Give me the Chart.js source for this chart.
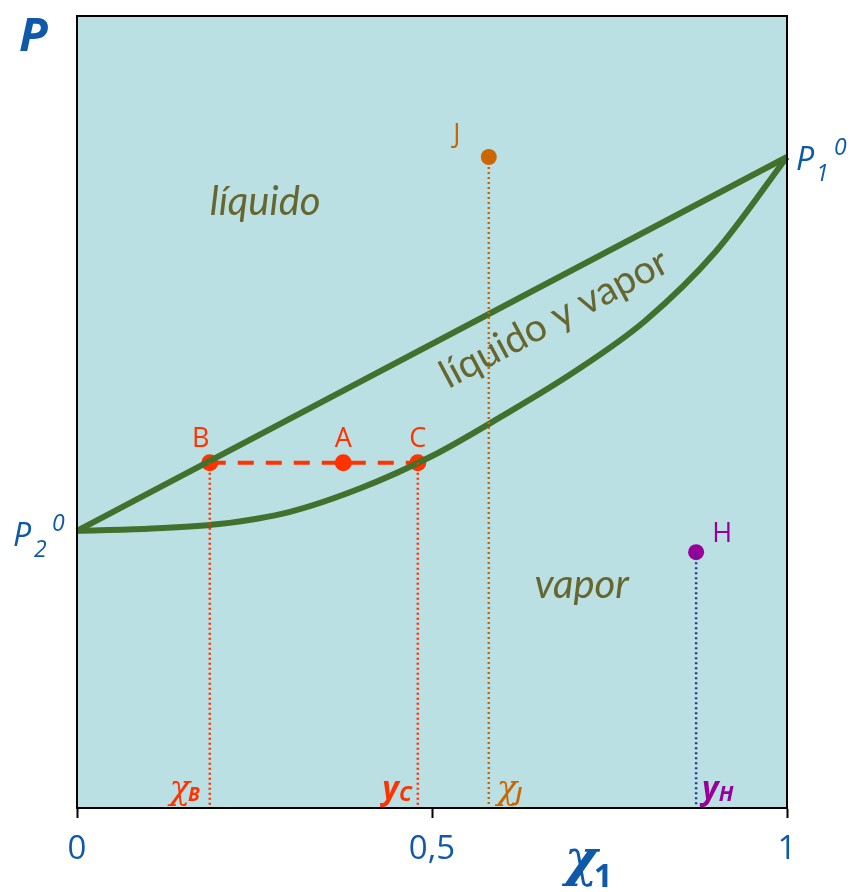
<!DOCTYPE html>
<html>
<head>
    <title>Diagrama P-x</title>
    <script src="https://cdn.jsdelivr.net/npm/chart.js"></script>
    <style>
        body { margin: 0; background: #fff; }
        #wrap { width: 853px; height: 892px; }
    </style>
</head>
<body>
    <div id="wrap"><canvas id="myChart" width="853" height="892"></canvas></div>

    <script>
        // presiones de vapor de los componentes puros (escala relativa)
        var P2 = 0.350;
        var P1 = 0.822;

        // línea de líquido (burbuja)
        var liquidX = [0, 1];
        var liquidP = [P2, P1];

        // curva de vapor (rocío)
        var vaporX = [0, 0.1, 0.2, 0.3, 0.4, 0.5, 0.6, 0.7, 0.8, 0.9, 1];
        var vaporP = [0.350, 0.3525, 0.3585, 0.374, 0.404, 0.4444, 0.4955, 0.5505, 0.615, 0.703, 0.822];

        // puntos marcados
        var pointNames = ['B', 'A', 'C', 'J', 'H'];
        var pointX = [0.187, 0.375, 0.480, 0.580, 0.872];
        var pointP = [0.436, 0.436, 0.436, 0.822, 0.323];

        var xTickValues = [0, 0.5, 1];
        var xTickLabels = ['0', '0,5', '1'];

        var BLUE = '#0F5AA8';
        var GREEN = '#41712C';
        var RED = '#FF3300';
        var ORANGE = '#CC6600';
        var PURPLE = '#990099';
        var NAVY = '#2E3192';
        var OLIVE = '#66662E';
        var BG = '#BBE0E3';

        function pt(name) {
            var i = pointNames.indexOf(name);
            return { x: pointX[i], y: pointP[i] };
        }
        function zip(xs, ys) {
            return xs.map(function (x, i) { return { x: x, y: ys[i] }; });
        }
        function drop(name) {
            var p = pt(name);
            return [p, { x: p.x, y: 0 }];
        }

        // fondo y marco del área del gráfico
        var framePlugin = {
            id: 'frame',
            beforeDraw: function (chart) {
                var c = chart.ctx, a = chart.chartArea;
                c.save();
                c.fillStyle = BG;
                c.fillRect(a.left, a.top, a.right - a.left, a.bottom - a.top);
                c.restore();
            },
            afterDraw: function (chart) {
                var c = chart.ctx, a = chart.chartArea;
                c.save();
                c.strokeStyle = '#000';
                c.lineWidth = 2;
                c.strokeRect(a.left, a.top, a.right - a.left, a.bottom - a.top);
                c.restore();
            }
        };

        function drawSub(c, main, sub, x, y, color, mainFont, subFont, dy, align, kern) {
            kern = kern || 0;
            c.font = mainFont;
            var w1 = c.measureText(main).width;
            c.font = subFont;
            var w2 = c.measureText(sub).width;
            var x0 = align === 'right' ? x - w1 - w2 - kern : x;
            c.fillStyle = color;
            c.textAlign = 'left';
            c.textBaseline = 'alphabetic';
            c.font = mainFont;
            c.fillText(main, x0, y);
            c.font = subFont;
            c.fillText(sub, x0 + w1 + kern, y + dy);
        }

        // textos y etiquetas
        var labelPlugin = {
            id: 'labels',
            afterDraw: function (chart) {
                var c = chart.ctx, a = chart.chartArea;
                var sx = chart.scales.x, sy = chart.scales.y;
                function px(v) { return sx.getPixelForValue(v); }
                function py(v) { return sy.getPixelForValue(v); }
                c.save();

                // nombres de los puntos
                c.font = '27px "Open Sans"';
                c.textAlign = 'center';
                c.textBaseline = 'alphabetic';
                c.fillStyle = RED;
                ['B', 'A', 'C'].forEach(function (n) {
                    var p = pt(n);
                    c.fillText(n, px(p.x) - (n === 'B' ? 9 : 0), py(p.y) - 16);
                });
                var j = pt('J');
                c.fillStyle = ORANGE;
                c.fillText('J', px(j.x) - 32, py(j.y) - 14);
                var h = pt('H');
                c.fillStyle = PURPLE;
                c.fillText('H', px(h.x) + 26, py(h.y) - 10);

                // regiones
                c.fillStyle = OLIVE;
                c.font = 'italic 40px Lato';
                c.textBaseline = 'middle';
                c.fillText('líquido', px(0.265), py(0.765));
                c.fillText('vapor', px(0.711), py(0.281));
                c.save();
                c.translate(px(0.672), py(0.618));
                c.rotate(-28 * Math.PI / 180);
                c.font = '39px Lato';
                c.fillText('líquido y vapor', 0, 0);
                c.restore();

                // presiones de saturación
                c.fillStyle = BLUE;
                c.textBaseline = 'alphabetic';
                c.textAlign = 'left';
                var yP1 = py(P1), yP2 = py(P2);
                c.font = 'italic 32px "Open Sans"';
                c.fillText('P', a.right + 9, yP1 + 13);
                c.font = 'italic 23px "Open Sans"';
                c.fillText('1', a.right + 29, yP1 + 24);
                c.fillText('0', a.right + 47, yP1 - 2);
                c.font = 'italic 32px "Open Sans"';
                c.fillText('P', 13, yP2 + 15);
                c.font = 'italic 23px "Open Sans"';
                c.fillText('2', 34, yP2 + 26);
                c.fillText('0', 52, yP2);

                // títulos de ejes
                c.font = 'bold italic 47px "Open Sans"';
                c.fillText('P', 19, 51);
                drawSub(c, 'χ', '1', px(0.687), a.bottom + 67, BLUE,
                    'bold italic 50px "DejaVu Serif"', 'bold 33px "Open Sans"', 12, 'left', -4);

                // composiciones en el eje
                var bot = a.bottom - 9;
                drawSub(c, 'χ', 'B', px(pt('B').x) - 10, bot, RED,
                    'italic 34px "DejaVu Serif"', 'bold italic 19px "Open Sans"', 2, 'right', -2);
                drawSub(c, 'y', 'C', px(pt('C').x) - 6, bot, RED,
                    'bold italic 32px "Open Sans"', 'bold italic 21px "Open Sans"', 2, 'right');
                drawSub(c, 'χ', 'J', px(pt('J').x) + 8, bot, ORANGE,
                    'italic 34px "DejaVu Serif"', 'bold italic 19px "Open Sans"', 2, 'left', -2);
                drawSub(c, 'y', 'H', px(pt('H').x) + 6, bot, PURPLE,
                    'bold italic 32px "Open Sans"', 'bold italic 21px "Open Sans"', 2, 'left');

                c.restore();
            }
        };

        var ctx = document.getElementById('myChart').getContext('2d');
        var myChart = new Chart(ctx, {
            type: 'scatter',
            data: {
                datasets: [
                    { data: drop('B'), showLine: true, borderColor: RED, borderWidth: 2.5, borderDash: [2, 3], pointRadius: 0 },
                    { data: drop('C'), showLine: true, borderColor: RED, borderWidth: 2.5, borderDash: [2, 3], pointRadius: 0 },
                    { data: drop('J'), showLine: true, borderColor: ORANGE, borderWidth: 2.5, borderDash: [2, 3], pointRadius: 0 },
                    { data: drop('H'), showLine: true, borderColor: NAVY, borderWidth: 2.5, borderDash: [2, 3], pointRadius: 0 },
                    { data: zip(liquidX, liquidP), showLine: true, borderColor: GREEN, borderWidth: 6, pointRadius: 0, clip: false },
                    { data: zip(vaporX, vaporP), showLine: true, borderColor: GREEN, borderWidth: 6, pointRadius: 0,
                      cubicInterpolationMode: 'monotone', clip: false },
                    { data: [pt('B'), pt('C')], showLine: true, borderColor: RED, borderWidth: 4, borderDash: [16, 12], pointRadius: 0 },
                    { data: [pt('B'), pt('A'), pt('C')], pointRadius: 8.5, backgroundColor: RED, borderWidth: 0 },
                    { data: [pt('J')], pointRadius: 8, backgroundColor: ORANGE, borderWidth: 0 },
                    { data: [pt('H')], pointRadius: 8, backgroundColor: PURPLE, borderWidth: 0 }
                ]
            },
            options: {
                responsive: false,
                animation: false,
                events: [],
                layout: { padding: { left: 77, right: 66, top: 16, bottom: 0 } },
                plugins: { legend: { display: false }, tooltip: { enabled: false } },
                scales: {
                    x: {
                        type: 'linear',
                        position: 'bottom',
                        min: 0,
                        max: 1,
                        afterBuildTicks: function (s) {
                            s.ticks = xTickValues.map(function (v) { return { value: v }; });
                        },
                        afterFit: function (s) { s.height = 84; },
                        ticks: {
                            color: BLUE,
                            font: { family: '"Open Sans"', size: 33 },
                            padding: 12,
                            maxRotation: 0,
                            callback: function (v) { return xTickLabels[xTickValues.indexOf(v)]; }
                        },
                        grid: { drawOnChartArea: false, tickLength: 10, color: '#000', tickWidth: 2 },
                        border: { color: '#000', width: 2 }
                    },
                    y: {
                        type: 'linear',
                        min: 0,
                        max: 1,
                        display: false
                    }
                }
            },
            plugins: [framePlugin, labelPlugin]
        });
    </script>
</body>
</html>
